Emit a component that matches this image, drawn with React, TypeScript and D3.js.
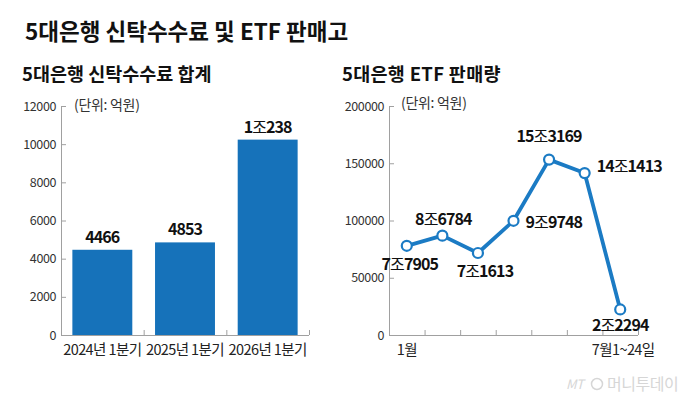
import React from 'react';
import * as d3 from 'd3';

const barCategories = ['2024년 1분기', '2025년 1분기', '2026년 1분기'];
const barValues = [4466, 4853, 10238];
const barLabels = ['4466', '4853', '1조238'];
const barTicks = [0, 2000, 4000, 6000, 8000, 10000, 12000];

const lineCategories = ['1월', '2월', '3월', '4월', '5월', '6월', '7월1~24일'];
const lineShownLabels = ['1월', '7월1~24일'];
const lineValues = [77905, 86784, 71613, 99748, 153169, 141413, 22294];
const lineLabels = ['7조7905', '8조6784', '7조1613', '9조9748', '15조3169', '14조1413', '2조2294'];
const lineTicks = [0, 50000, 100000, 150000, 200000];

// label placement per point: [dx, dy, anchor]
const labelPlacement: [number, number, string][] = [
  [3, 24, 'middle'],
  [1, -11, 'middle'],
  [7, 24, 'middle'],
  [12, 7, 'start'],
  [0, -18, 'middle'],
  [12, -1, 'start'],
  [0, 22, 'middle'],
];

const FONT = '"Noto Sans CJK KR", "Noto Sans", sans-serif';
const BLUE = '#1672ba';
const LINE_BLUE = '#1b7bc4';
const AXIS = '#a0a0a0';

function Label({ text, x, y, anchor, size }: { text: string; x: number; y: number; anchor: string; size: number }) {
  const parts = text.split('조');
  return (
    <text x={x} y={y} textAnchor={anchor as any} fontFamily={FONT} fontSize={size} fontWeight={700} fill="#111" letterSpacing={-0.9}>
      {parts.length > 1 ? (
        <>
          <tspan>{parts[0]}</tspan>
          <tspan fontWeight={400}>조</tspan>
          <tspan>{parts[1]}</tspan>
        </>
      ) : (
        text
      )}
    </text>
  );
}

export default function App() {
  const W = 680, H = 400;
  const y0 = 335, yTop = 106;

  // Left bar chart
  const bx = d3.scaleBand<string>().domain(barCategories).range([61, 309]).paddingInner(0.275).paddingOuter(0.1375);
  const by = d3.scaleLinear().domain([0, 12000]).range([y0, yTop]);

  // Right line chart
  const lx = d3.scaleBand<string>().domain(lineCategories).range([389, 638]);
  const ly = d3.scaleLinear().domain([0, 200000]).range([y0, yTop]);
  const pts = lineValues.map((v, i) => [lx(lineCategories[i])! + lx.bandwidth() / 2, ly(v)] as [number, number]);
  const linePath = d3.line()(pts) || '';

  return (
    <svg width={W} height={H} style={{ position: 'absolute', left: 0, top: 0, background: '#fff' }}>
      <rect width={W} height={H} fill="#fff" />
      <text x={25} y={40} fontFamily={FONT} fontSize={22.5} fontWeight={700} fill="#111" letterSpacing={0}>
        5대은행 신탁수수료 및 ETF 판매고
      </text>

      {/* Left chart */}
      <text x={22} y={81} fontFamily={FONT} fontSize={18.5} fontWeight={700} fill="#111" letterSpacing={0}>
        5대은행 신탁수수료 합계
      </text>
      <text x={74} y={110} fontFamily={FONT} fontSize={14} fill="#333" letterSpacing={-0.3}>
        (단위: 억원)
      </text>
      <line x1={61.5} x2={61.5} y1={by(12000)} y2={y0} stroke={AXIS} />
      {barTicks.map((t) => (
        <g key={t}>
          <line x1={61.5} x2={66} y1={by(t) + 0.5} y2={by(t) + 0.5} stroke={AXIS} />
          <text x={56} y={by(t) + 4.5} textAnchor="end" fontFamily={FONT} fontSize={12.5} fill="#333" letterSpacing={-0.4}>
            {t}
          </text>
        </g>
      ))}
      <line x1={61} x2={309} y1={y0 + 0.5} y2={y0 + 0.5} stroke={AXIS} />
      {barCategories.map((c) => (
        <line key={c} x1={bx(c)! + bx.bandwidth() + bx.step() * 0.1375 + 0.5} x2={bx(c)! + bx.bandwidth() + bx.step() * 0.1375 + 0.5} y1={y0} y2={y0 - 5} stroke={AXIS} />
      ))}
      {barCategories.map((c, i) => (
        <g key={c}>
          <rect x={bx(c)} y={by(barValues[i])} width={bx.bandwidth()} height={y0 - by(barValues[i])} fill={BLUE} />
          <Label text={barLabels[i]} x={bx(c)! + bx.bandwidth() / 2} y={by(barValues[i]) - 7} anchor="middle" size={16} />
          <text x={bx(c)! + bx.bandwidth() / 2} y={355} textAnchor="middle" fontFamily={FONT} fontSize={14.5} fill="#222" letterSpacing={-0.6}>
            {c}
          </text>
        </g>
      ))}

      {/* Right chart */}
      <text x={342} y={81} fontFamily={FONT} fontSize={18.5} fontWeight={700} fill="#111" letterSpacing={0.3}>
        5대은행 ETF 판매량
      </text>
      <text x={401} y={108} fontFamily={FONT} fontSize={14} fill="#333" letterSpacing={-0.3}>
        (단위: 억원)
      </text>
      <line x1={389.5} x2={389.5} y1={ly(200000)} y2={y0} stroke={AXIS} />
      {lineTicks.map((t) => (
        <g key={t}>
          <line x1={389.5} x2={394} y1={ly(t) + 0.5} y2={ly(t) + 0.5} stroke={AXIS} />
          <text x={384} y={ly(t) + 4.5} textAnchor="end" fontFamily={FONT} fontSize={12.5} fill="#333" letterSpacing={-0.4}>
            {t}
          </text>
        </g>
      ))}
      <line x1={389} x2={638} y1={y0 + 0.5} y2={y0 + 0.5} stroke={AXIS} />
      {lineCategories.map((c) => (
        <line key={c} x1={lx(c)! + lx.bandwidth() + 0.5} x2={lx(c)! + lx.bandwidth() + 0.5} y1={y0} y2={y0 - 5} stroke={AXIS} />
      ))}
      {lineCategories.filter((c) => lineShownLabels.includes(c)).map((c) => (
        <text key={c} x={lx(c)! + lx.bandwidth() / 2 + (c === '1월' ? 0 : 3)} y={355} textAnchor="middle" fontFamily={FONT} fontSize={14.5} fill="#222" letterSpacing={-0.6}>
          {c}
        </text>
      ))}
      <path d={linePath} fill="none" stroke={LINE_BLUE} strokeWidth={3.8} strokeLinejoin="round" />
      {pts.map((p, i) => (
        <circle key={i} cx={p[0]} cy={p[1]} r={5} fill="#fff" stroke={LINE_BLUE} strokeWidth={2.2} />
      ))}
      {pts.map((p, i) => (
        <Label key={i} text={lineLabels[i]} x={p[0] + labelPlacement[i][0]} y={p[1] + labelPlacement[i][1]} anchor={labelPlacement[i][2]} size={16} />
      ))}

      {/* watermark */}
      <text x={566} y={389} fontFamily={FONT} fontSize={13} fontStyle="italic" fill="#d6d6d6" letterSpacing={-0.5}>
        MT
      </text>
      <circle cx={597} cy={384} r={5.5} fill="none" stroke="#d6d6d6" strokeWidth={1.5} />
      <text x={607} y={390} fontFamily={FONT} fontSize={16} fill="#d6d6d6" letterSpacing={-0.5}>
        머니투데이
      </text>
    </svg>
  );
}
